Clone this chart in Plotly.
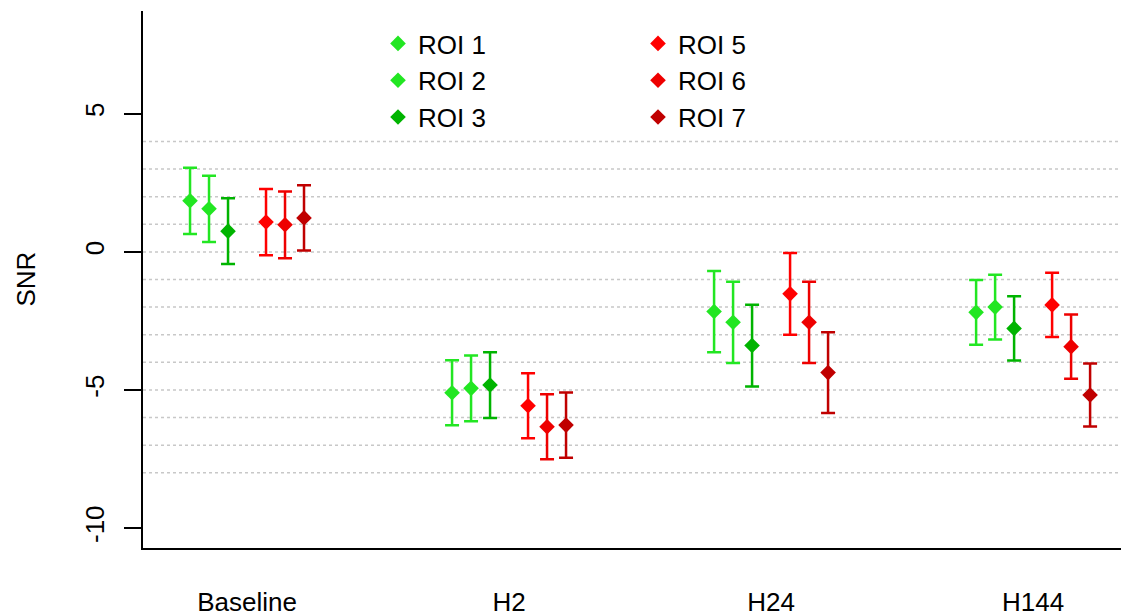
import plotly.graph_objects as go

# ---- data ----
timepoints = ["Baseline", "H2", "H24", "H144"]
roi_names = ["ROI 1", "ROI 2", "ROI 3", "ROI 5", "ROI 6", "ROI 7"]

roi1_mean = [1.85, -5.10, -2.16, -2.19]
roi1_err = [1.20, 1.18, 1.47, 1.17]
roi2_mean = [1.56, -4.94, -2.55, -2.00]
roi2_err = [1.20, 1.19, 1.47, 1.17]
roi3_mean = [0.75, -4.82, -3.39, -2.77]
roi3_err = [1.19, 1.19, 1.48, 1.16]
roi5_mean = [1.08, -5.57, -1.52, -1.92]
roi5_err = [1.20, 1.18, 1.48, 1.16]
roi6_mean = [0.98, -6.33, -2.55, -3.43]
roi6_err = [1.21, 1.18, 1.47, 1.16]
roi7_mean = [1.23, -6.27, -4.37, -5.18]
roi7_err = [1.18, 1.18, 1.46, 1.14]

y_ticks = [-10, -5, 0, 5]
grid_levels = [4, 3, 2, 1, 0, -1, -2, -3, -4, -5, -6, -7, -8]

# ---- styling ----
colors = ["#22e622", "#22e622", "#00b400", "#ff0000", "#ee0000", "#c00000"]
slots = [-3, -2, -1, 1, 2, 3]
step = 0.0725
legend_of = ["legend", "legend", "legend", "legend2", "legend2", "legend2"]
FONT = "Liberation Sans, Arial, sans-serif"

means = [roi1_mean, roi2_mean, roi3_mean, roi5_mean, roi6_mean, roi7_mean]
errs = [roi1_err, roi2_err, roi3_err, roi5_err, roi6_err, roi7_err]

fig = go.Figure()

for lvl in grid_levels:
    fig.add_shape(type="line", xref="paper", x0=0, x1=1, yref="y", y0=lvl, y1=lvl,
                  line=dict(color="#c8c8c8", width=1.5, dash="dot"), layer="below")

for i, name in enumerate(roi_names):
    xs = [k + 1 + slots[i] * step for k in range(len(timepoints))]
    fig.add_trace(go.Scatter(
        x=xs, y=means[i], mode="markers", name=name,
        marker=dict(symbol="diamond", size=12, color=colors[i]),
        error_y=dict(type="data", array=errs[i], visible=True, color=colors[i],
                     thickness=2.5, width=7),
        legend=legend_of[i],
    ))

# page body has an 8px margin, so the figure is offset by 8px in the window
OFF = 8
W, H = 1129 - OFF, 616 - OFF
ml, mr, mt, mb = 143 - OFF, 0, 11 - OFF, 616 - 548
pw = W - ml - mr
ph = H - mt - mb

def px_x(px):  # screen px -> paper x
    return (px - OFF - ml) / pw

def px_y(py):  # screen px -> paper y
    return (H - mb - (py - OFF)) / ph

fig.update_layout(
    width=W, height=H,
    margin=dict(l=ml, r=mr, t=mt, b=mb, autoexpand=False),
    plot_bgcolor="white", paper_bgcolor="white",
    font=dict(family=FONT, size=26, color="black"),
    showlegend=True,
    legend=dict(x=px_x(378), y=px_y(20), xanchor="left", yanchor="top",
                bgcolor="rgba(0,0,0,0)", font=dict(size=26), tracegroupgap=0),
    legend2=dict(x=px_x(638), y=px_y(20), xanchor="left", yanchor="top",
                 bgcolor="rgba(0,0,0,0)", font=dict(size=26), tracegroupgap=0),
    xaxis=dict(
        range=[0.603, 4.366], tickmode="array",
        tickvals=[k + 1 for k in range(len(timepoints))], ticktext=timepoints,
        showgrid=False, zeroline=False, showline=True, linecolor="black", linewidth=2,
        ticks="", ticklabelstandoff=30, tickfont=dict(size=26), automargin=False,
    ),
    yaxis=dict(
        range=[-10.72, 8.72], tickmode="array", tickvals=y_ticks,
        ticktext=[str(v) for v in y_ticks],
        showgrid=False, zeroline=False, showline=True, linecolor="black", linewidth=2,
        ticks="outside", ticklen=17, tickwidth=2, tickcolor="black",
        tickangle=-90, tickfont=dict(size=26), ticklabelstandoff=10, automargin=False,
    ),
    annotations=[dict(text="SNR", xref="paper", yref="paper", x=px_x(25), y=0.5,
                      textangle=-90, showarrow=False, xanchor="center", yanchor="middle",
                      font=dict(size=26))],
)

fig.write_html("out.html")
